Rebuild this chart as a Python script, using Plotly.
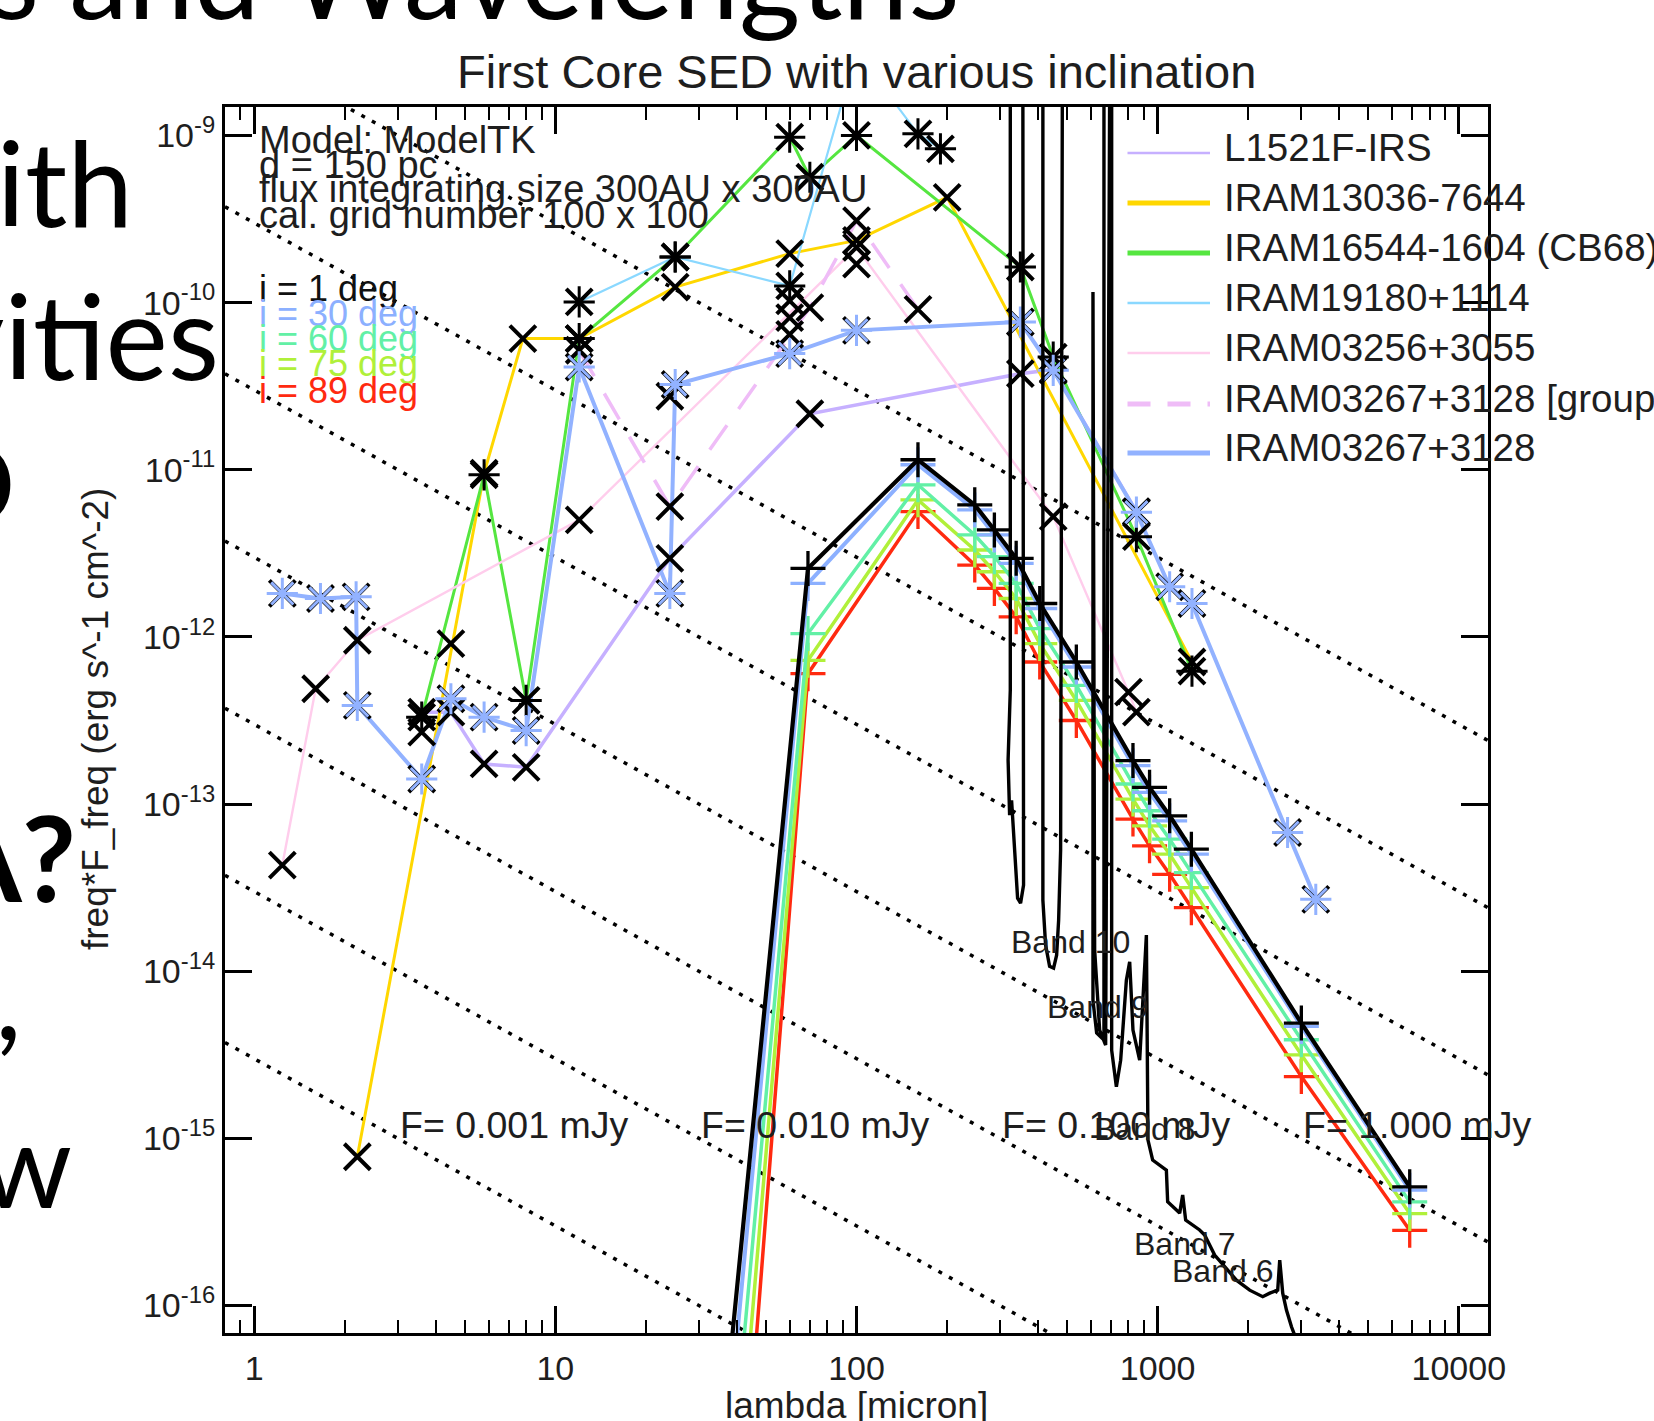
import numpy as np
import plotly.graph_objects as go

FONT = "Liberation Sans, Arial, Helvetica, sans-serif"
SLIDE_FONT = "Lato, Open Sans, sans-serif"

W, H = 1654, 1421
BOX_L, BOX_R, BOX_T, BOX_B = 225, 1488, 107, 1333

LAM_RANGE = [0.8, 12500]          # micron
NUFNU_RANGE = [6.85e-17, 1.48e-9]  # erg s^-1 cm^-2

# ---------------- model SEDs (log10 nuFnu) ----------------
model_wave = [30, 69, 160, 247, 287, 339, 406, 537, 828, 940, 1096, 1294, 3000, 6870]
model_i1_log = [-18.2, -11.59, -10.94, -11.21, -11.36, -11.53, -11.80, -12.15, -12.74, -12.90, -13.07, -13.27, -14.31, -15.29]
model_i30_log = [-18.6, -11.68, -10.97, -11.24, -11.39, -11.56, -11.83, -12.18, -12.77, -12.93, -13.10, -13.30, -14.33, -15.31]
model_i60_log = [-19.16, -11.98, -11.09, -11.39, -11.52, -11.68, -11.95, -12.29, -12.88, -13.04, -13.21, -13.41, -14.41, -15.38]
model_i75_log = [-19.8, -12.14, -11.18, -11.48, -11.61, -11.77, -12.04, -12.38, -12.97, -13.13, -13.30, -13.50, -14.50, -15.45]
model_i89_log = [-20.6, -12.22, -11.25, -11.57, -11.71, -11.88, -12.15, -12.50, -13.09, -13.25, -13.42, -13.62, -14.63, -15.55]

# ---------------- observed sources (log10 nuFnu) ----------------
l1521f_wave = [3.6, 4.5, 5.8, 8.0, 24, 70, 350, 450, 850]
l1521f_log = [-12.45, -12.45, -12.76, -12.78, -11.53, -10.665, -10.425, -10.40, -11.25]

iram13036_wave = [2.2, 5.8, 7.8, 12, 25, 60, 100, 200, 1300]
iram13036_log = [-15.11, -11.02, -10.215, -10.215, -9.907, -9.707, -9.628, -9.37, -12.15]

cb68_wave = [3.6, 5.8, 8.0, 12, 25, 60, 70, 100, 350, 450, 850, 1300]
cb68_log = [-12.48, -11.03, -12.38, -10.215, -9.727, -9.01, -9.25, -9.0, -9.787, -10.326, -11.40, -12.205]

iram19180_wave = [12, 25, 60, 100, 160, 190]
iram19180_log = [-9.996, -9.727, -9.90, -8.5, -8.99, -9.08]

iram03256_wave = [1.24, 1.6, 2.2, 12, 100, 450, 800, 850]
iram03256_log = [-13.365, -12.31, -12.02, -11.30, -9.67, -11.28, -12.33, -12.45]

iram03267g_wave = [12, 24, 70, 100, 160]
iram03267g_log = [-10.285, -11.22, -10.03, -9.51, -10.04]

iram03267_wave = [1.24, 1.66, 2.18, 2.2, 3.6, 4.5, 5.8, 8.0, 12, 24, 25, 60, 100, 350, 450, 850, 1096, 1300, 2700, 3350]
iram03267_log = [-11.74, -11.77, -11.76, -12.41, -12.85, -12.37, -12.48, -12.56, -10.385, -11.74, -10.49, -10.305,
                 -10.166, -10.116, -10.405, -11.254, -11.70, -11.80, -13.17, -13.57]

# photometry without a connecting line
extra_wave = [3.6, 4.5, 24, 60, 60, 60, 100]
extra_log = [-12.57, -12.04, -10.56, -9.99, -10.09, -10.19, -9.77]

# ---------------- ALMA band curve (log10 nuFnu) ----------------
band_wave = [324.1, 324.1, 318.7, 322.4, 327.3, 332.4, 337.5, 342.7, 350.6, 358.7, 356.8,
             415.8, 415.8, 424.5, 437.7, 451.3, 461.8, 469.0, 476.2, 482.5,
             663.3, 663.3, 627.2, 609.8, 609.8, 617.7, 641.8, 671.9, 692.8,
             703.5, 703.5, 729.3, 753.7, 787.2, 807.4, 828.0, 871.5, 917.4, 928.7, 962.6,
             1068.9, 1079.5, 1183.3, 1210.8, 1238.8, 1378.5, 1432.3, 1546.4, 1826, 2021,
             2233, 2356, 2504, 2543, 2602, 2677, 2782, 2890, 2964]
band_log = [-8.73, -12.319, -12.737, -13.066, -12.977, -13.156, -13.395, -13.563, -13.593, -13.485, -8.73,
            -8.73, -13.575, -13.844, -13.970, -13.981, -13.904, -13.695, -13.275, -8.73,
            -8.73, -14.412, -14.370, -14.173, -9.937, -13.874, -14.352, -14.442, -8.73,
            -8.73, -14.472, -14.691, -14.532, -14.053, -13.944, -14.352, -14.532, -13.784, -15.010, -15.130,
            -15.190, -15.379, -15.447, -15.339, -15.489, -15.548, -15.578, -15.698, -15.848, -15.908,
            -15.947, -15.926, -15.908, -15.728, -15.926, -16.027, -16.127, -16.206, -16.565]

band_names = ["Band 10", "Band 9", "Band 8", "Band 7", "Band 6", "Band 4", "Band 3"]
band_label_wave = [322, 421, 604, 820, 1096, 1871, 2600]
band_label_log = [-13.893, -14.28, -15.01, -15.70, -15.86, -16.25, -16.595]

# constant F_nu guide lines
flux_levels_mJy = [0.001, 0.01, 0.1, 1, 10, 100, 1000]
flux_label_levels = [0.001, 0.010, 0.100, 1.000]
flux_label_wave = [3, 30, 300, 3000]
C_MICRON = 2.998e14  # speed of light in micron/s

incl_labels = ["i = 1 deg", "i = 30 deg", "i = 60 deg", "i = 75 deg", "i = 89 deg"]

legend_names = ["L1521F-IRS", "IRAM13036-7644", "IRAM16544-1604 (CB68)", "IRAM19180+1114",
                "IRAM03256+3055", "IRAM03267+3128 [group]", "IRAM03267+3128"]

x_tick_vals = [1, 10, 100, 1000, 10000]
y_tick_exps = list(range(-16, -8))

# ---------------- styles ----------------
COL_MODEL = {"i1": "#000000", "i30": "#8cb0ff", "i60": "#62f0a6", "i75": "#b0f03a", "i89": "#ff2a10"}
COL_L1521F = "#c6b0ff"
COL_13036 = "#ffd700"
COL_CB68 = "#55e640"
COL_19180 = "#8ad8ff"
COL_03256 = "#ffcdec"
COL_03267G = "#efbcf7"
COL_03267 = "#92b2ff"
TXT = "#1e1e1e"


def lin(vals):
    return [10.0 ** v for v in vals]


def pxx(x):
    return (x - BOX_L) / (BOX_R - BOX_L)


def pxy(y):
    return (BOX_B - y) / (BOX_B - BOX_T)


fig = go.Figure()

# dotted constant-flux lines
for F in flux_levels_mJy:
    fig.add_trace(go.Scatter(
        x=LAM_RANGE, y=[C_MICRON / lam * F * 1e-26 for lam in LAM_RANGE],
        mode="lines", line=dict(color="black", width=3.5, dash="4px,8px"), hoverinfo="skip"))

# observed SED lines
obs = [
    (l1521f_wave, l1521f_log, COL_L1521F, 3.5, "solid"),
    (iram13036_wave, iram13036_log, COL_13036, 3, "solid"),
    (cb68_wave, cb68_log, COL_CB68, 3, "solid"),
    (iram19180_wave, iram19180_log, COL_19180, 2.2, "solid"),
    (iram03256_wave, iram03256_log, COL_03256, 2.4, "solid"),
    (iram03267g_wave, iram03267g_log, COL_03267G, 3.5, "30px,20px"),
    (iram03267_wave, iram03267_log, COL_03267, 4, "solid"),
]
for wv, lg, col, w, dash in obs:
    fig.add_trace(go.Scatter(x=wv, y=lin(lg), mode="lines", line=dict(color=col, width=w, dash=dash)))

# black crosses on every photometric point
all_w, all_l = [], []
for wv, lg, *_ in obs:
    all_w += wv
    all_l += lg
all_w += extra_wave
all_l += extra_log
fig.add_trace(go.Scatter(x=all_w, y=lin(all_l), mode="markers",
                         marker=dict(symbol="x-thin", size=26, line=dict(color="black", width=4))))
# asterisks
for wv, lg in [(cb68_wave, cb68_log), (iram19180_wave, iram19180_log)]:
    fig.add_trace(go.Scatter(x=wv, y=lin(lg), mode="markers",
                             marker=dict(symbol="asterisk", size=26, line=dict(color="black", width=3))))
fig.add_trace(go.Scatter(x=iram03267_wave, y=lin(iram03267_log), mode="markers",
                         marker=dict(symbol="asterisk", size=26, line=dict(color=COL_03267, width=3))))

# model SEDs, 89 deg drawn first so the face-on curve ends up on top
for key, vals, w in [("i89", model_i89_log, 3.5), ("i75", model_i75_log, 3.5), ("i60", model_i60_log, 3.5),
                     ("i30", model_i30_log, 4), ("i1", model_i1_log, 4.2)]:
    fig.add_trace(go.Scatter(x=model_wave, y=lin(vals), mode="lines+markers",
                             line=dict(color=COL_MODEL[key], width=w),
                             marker=dict(symbol="cross-thin", size=25, line=dict(color=COL_MODEL[key], width=3.3))))

# ALMA band curve
fig.add_trace(go.Scatter(x=band_wave, y=lin(band_log), mode="lines", line=dict(color="black", width=3.4)))

# ---------------- text ----------------
annotations = []


def label(x, y, text, size, color=TXT, xanchor="left", ref="paper", family=FONT, **extra):
    """Place a text line with its baseline at y."""
    xr, yr = ("paper", "paper") if ref == "paper" else ("x", "y")
    annotations.append(dict(x=x, y=y, xref=xr, yref=yr, text=text, showarrow=False,
                            xanchor=xanchor, yanchor="bottom", yshift=-(0.212 * size + 2),
                            font=dict(family=family, size=size, color=color), **extra))


# title and axis titles
label(pxx(856.5), pxy(88), "First Core SED with various inclination", 47, xanchor="center")
label(pxx(856.5), pxy(1418), "lambda [micron]", 37, xanchor="center")
annotations.append(dict(x=pxx(95), y=pxy(719), xref="paper", yref="paper", showarrow=False,
                        text="freq*F_freq (erg s^-1 cm^-2)", textangle=-90, xanchor="center", yanchor="middle",
                        font=dict(family=FONT, size=37, color=TXT)))

# model description
for txt, base in zip(["Model: ModelTK", "d = 150 pc", "flux integrating size 300AU x 300AU",
                      "cal. grid number 100 x 100"], [153, 178, 202, 228]):
    label(pxx(257), pxy(base), txt, 38)

# inclination key
for txt, base, key in zip(incl_labels, [301.7, 326.7, 351.7, 376.7, 403],
                          ["i1", "i30", "i60", "i75", "i89"]):
    label(pxx(257), pxy(base), txt, 36, color=COL_MODEL[key] if key != "i1" else "#111111")

# flux guide labels
for F, lam in zip(flux_label_levels, flux_label_wave):
    label(np.log10(lam), np.log10(C_MICRON / lam * F * 1e-26), "F= %.3f mJy" % F, 37.5, ref="data")

# ALMA band labels
for name, lam, lg in zip(band_names, band_label_wave, band_label_log):
    label(np.log10(lam), lg, name, 32, ref="data")

# source legend
legend_rows = [153, 203, 253, 303, 353, 404, 453]
legend_styles = [(COL_L1521F, 2.5, "solid"), (COL_13036, 5, "solid"), (COL_CB68, 5, "solid"),
                 (COL_19180, 2.5, "solid"), (COL_03256, 2.5, "solid"), (COL_03267G, 5, "23px,17px"),
                 (COL_03267, 5, "solid")]
shapes = []
for name, row, (col, w, dash) in zip(legend_names, legend_rows, legend_styles):
    shapes.append(dict(type="line", xref="paper", yref="paper", x0=pxx(1127.5), x1=pxx(1210),
                       y0=pxy(row), y1=pxy(row), line=dict(color=col, width=w, dash=dash)))
    label(pxx(1221.6), pxy(row + 8), name, 38.5)

# slide text around the figure
label(pxx(962), pxy(19), "s and Wavelengths", 118, color="black", xanchor="right", family=SLIDE_FONT)
label(pxx(135), pxy(227), "with", 118, color="black", xanchor="right", family=SLIDE_FONT)
label(pxx(221), pxy(380), "activities", 118, color="black", xanchor="right", family=SLIDE_FONT)
label(pxx(18), pxy(527), "SED", 118, color="black", xanchor="right", family=SLIDE_FONT)
label(pxx(78), pxy(902), "<b>ALMA?</b>", 118, color="black", xanchor="right", family=SLIDE_FONT)
label(pxx(24), pxy(1040), ",", 118, color="black", xanchor="right", family=SLIDE_FONT)
label(pxx(74), pxy(1208), "new", 118, color="black", xanchor="right", family=SLIDE_FONT)

fig.update_layout(
    width=W, height=H,
    margin=dict(l=BOX_L, r=W - BOX_R, t=BOX_T, b=H - BOX_B),
    paper_bgcolor="white", plot_bgcolor="white",
    showlegend=False,
    annotations=annotations,
    shapes=shapes,
    xaxis=dict(type="log", range=[np.log10(LAM_RANGE[0]), np.log10(LAM_RANGE[1])],
               showline=True, linecolor="black", linewidth=3, mirror="ticks",
               ticks="inside", ticklen=27, tickwidth=2.5, tickcolor="black",
               tickvals=x_tick_vals, ticktext=[str(v) for v in x_tick_vals],
               tickfont=dict(family=FONT, size=34, color=TXT),
               showgrid=False, zeroline=False, ticklabelstandoff=3,
               minor=dict(ticks="inside", ticklen=13, tickwidth=2, tickcolor="black", dtick="D1", showgrid=False)),
    yaxis=dict(type="log", range=[np.log10(NUFNU_RANGE[0]), np.log10(NUFNU_RANGE[1])],
               showline=True, linecolor="black", linewidth=3, mirror="ticks",
               ticks="inside", ticklen=27, tickwidth=3, tickcolor="black",
               tickvals=[10.0 ** e for e in y_tick_exps],
               ticktext=["10<sup>%d</sup>" % e for e in y_tick_exps],
               tickfont=dict(family=FONT, size=34, color=TXT),
               showgrid=False, zeroline=False, ticklabelstandoff=0),
)

fig.write_html("out.html")
